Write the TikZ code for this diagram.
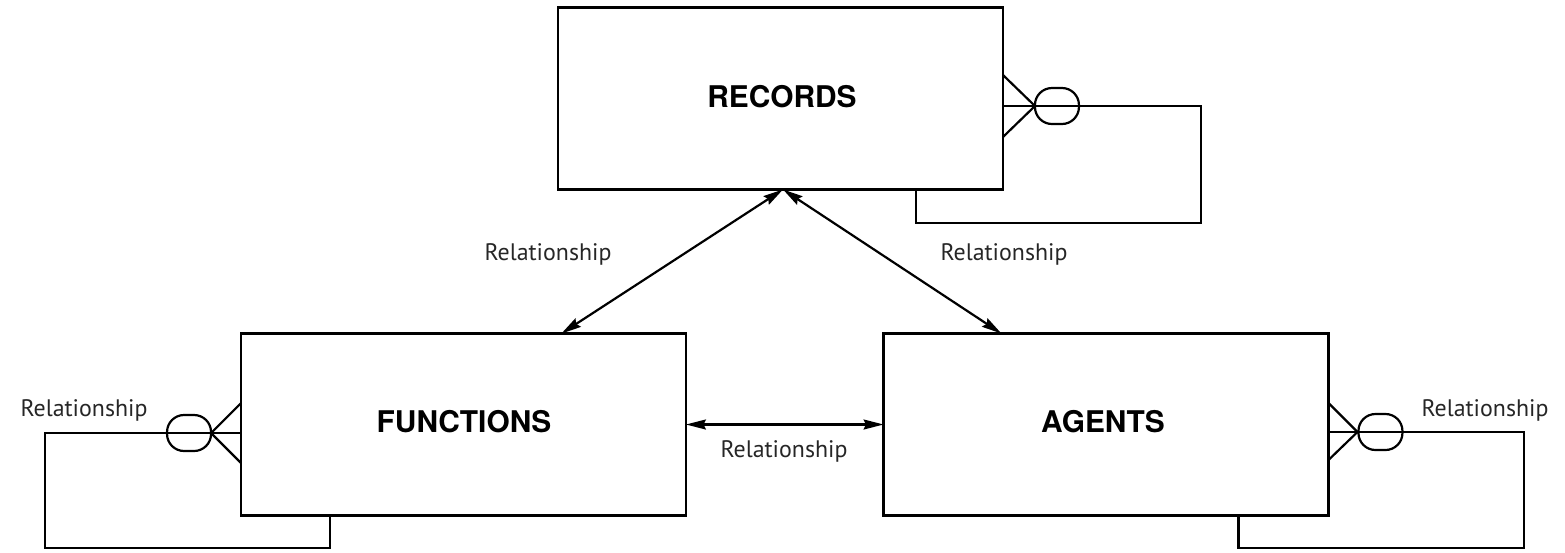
\documentclass[tikz,border=0pt]{standalone}
\usepackage{fontspec}
\setmainfont{TeX Gyre Heros}
\newfontfamily\relfont{PT Sans}
\usetikzlibrary{arrows.meta, calc}

\begin{document}
\begin{tikzpicture}[
  x=0.02cm, y=-0.02cm,
  line width=1.25pt,
  >={Stealth[length=0.4cm, width=0.2cm, inset=0.05cm]},
  entity/.style={draw, minimum width=8.9cm, minimum height=3.64cm,
    inner sep=0pt, outer sep=0pt},
  title/.style={font=\fontsize{17}{19}\selectfont\bfseries, anchor=base},
  rel/.style={font=\relfont\fontsize{13.6}{15}\selectfont, anchor=base,
    text=black!85},
  oval/.style={draw, minimum width=0.88cm, minimum height=0.72cm,
    rounded corners=0.34cm, inner sep=0pt},
]

\useasboundingbox (0,0) rectangle (1565,552);

% =============================================
% Entities
% =============================================

\node[entity] (rec) at (780.5,98.5) {};
\node[entity] (fun) at (463.5,424.5) {};
\node[entity] (age) at (1106,424.5) {};

\node[title] (recT) at (782,107) {RECORDS};
\node[title] (funT) at (464,432) {FUNCTIONS};
\node[title] (ageT) at (1103,432) {AGENTS};

% =============================================
% Relationships between entities
% =============================================

\coordinate (recBot) at ($(rec.south)+(2.5,0)$);
\coordinate (funTop) at ($(fun.north west)!0.72!(fun.north east)$);
\coordinate (ageTop) at ($(age.north west)!0.265!(age.north east)$);

\draw[<->] (recBot) -- (funTop);
\draw[<->] (recBot) -- (ageTop);
\draw[<->] (fun.east) -- (age.west);

% =============================================
% Self relationships (crow's foot + oval)
% =============================================

% Records
\coordinate (recF) at ($(rec.east)+(32,7.5)$);
\draw ($(rec.east)+(0,-23.5)$) -- (recF) -- ($(rec.east)+(0,38.5)$);
\node[oval] (recO) at ($(recF)+(22,0)$) {};
\draw ($(rec.east)+(0,7.5)$) -| (1201,223) -| ($(rec.south west)+(358,0)$);

% Functions
\coordinate (funF) at ($(fun.west)+(-30,8.5)$);
\draw ($(fun.west)+(0,-21.5)$) -- (funF) -- ($(fun.west)+(0,38.5)$);
\node[oval] (funO) at ($(funF)+(-22,0)$) {};
\draw ($(fun.west)+(0,8.5)$) -| (45,548) -| ($(fun.south west)+(89,0)$);

% Agents
\coordinate (ageF) at ($(age.east)+(29,7.5)$);
\draw ($(age.east)+(0,-21.5)$) -- (ageF) -- ($(age.east)+(0,35.5)$);
\node[oval] (ageO) at ($(ageF)+(23,0)$) {};
\draw ($(age.east)+(0,7.5)$) -| (1524,548) -| ($(age.south west)+(355,0)$);

% =============================================
% Labels
% =============================================

\node[rel] (relRF) at (548,260) {Relationship};
\node[rel] (relRA) at (1004,260) {Relationship};
\node[rel] (relFA) at (784,457) {Relationship};
\node[rel] (relFF) at (84,416) {Relationship};
\node[rel] (relAA) at (1485,416) {Relationship};

\end{tikzpicture}
\end{document}
